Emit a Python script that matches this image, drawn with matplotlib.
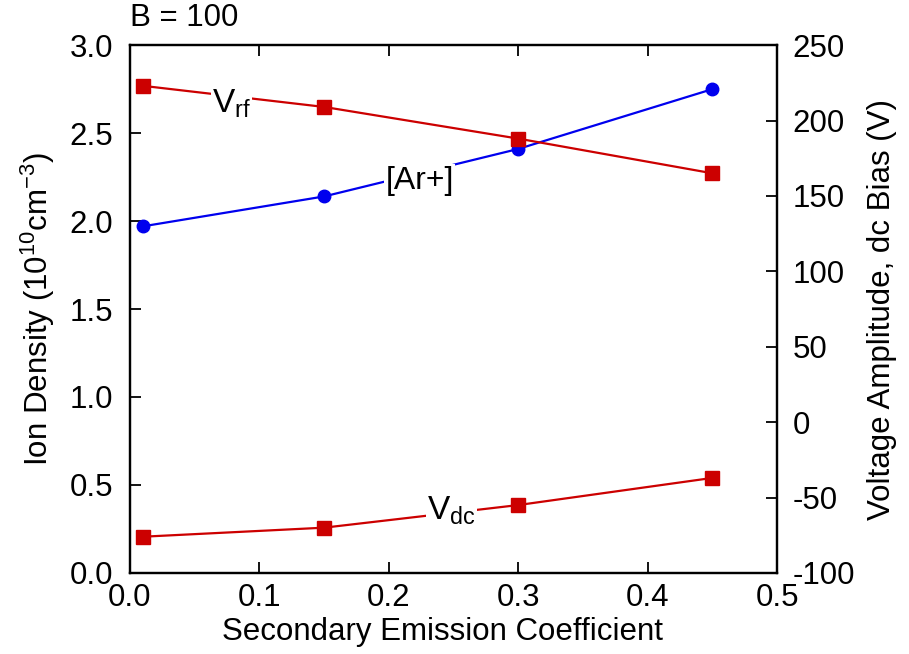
import matplotlib
matplotlib.use("Agg")
import matplotlib.pyplot as plt

plt.rcParams['font.family'] = ['Liberation Sans', 'DejaVu Sans']
plt.rcParams['mathtext.fontset'] = 'custom'
plt.rcParams['mathtext.rm'] = 'Liberation Sans'
plt.rcParams['mathtext.it'] = 'Liberation Sans'
plt.rcParams['axes.unicode_minus'] = False

# secondary emission coefficient
gamma = [0.01, 0.15, 0.30, 0.45]
# ion density, 1e10 cm^-3 (left axis)
ar_plus = [1.97, 2.14, 2.41, 2.75]
# voltages, V (right axis)
v_rf = [223, 209, 188, 165]
v_dc = [-76, -70, -55, -37]

red = '#cc0000'
blue = '#0000ee'
fs = 22.5

fig = plt.figure(figsize=(9.09, 6.54), dpi=100)
ax = fig.add_axes([0.143, 0.124, 0.712, 0.807])
ax2 = ax.twinx()

ax.plot(gamma, ar_plus, color=blue, lw=1.6, marker='o', ms=9, zorder=3)
ax2.plot(gamma, v_rf, color=red, lw=1.6, marker='s', ms=10, zorder=3)
ax2.plot(gamma, v_dc, color=red, lw=1.6, marker='s', ms=10, zorder=3)

ax.set_xlim(0, 0.5)
ax.set_ylim(0, 3.0)
ax2.set_ylim(-100, 250)
ax.set_xticks([0, 0.1, 0.2, 0.3, 0.4, 0.5])
ax.set_yticks([0, 0.5, 1.0, 1.5, 2.0, 2.5, 3.0])
ax2.set_yticks(range(-100, 251, 50))
ax.xaxis.set_major_formatter(matplotlib.ticker.FormatStrFormatter('%.1f'))
ax.yaxis.set_major_formatter(matplotlib.ticker.FormatStrFormatter('%.1f'))

ax.tick_params(axis='x', direction='in', top=True, length=8, width=1.3,
               labelsize=fs, pad=7)
ax.tick_params(axis='y', direction='in', right=False, length=8, width=1.3,
               labelsize=fs, pad=12)
ax2.tick_params(axis='y', direction='in', length=8, width=1.3,
                labelsize=fs, pad=11)
for a in (ax, ax2):
    for s in a.spines.values():
        s.set_linewidth(1.6)

ax.set_xlabel('Secondary Emission Coefficient', fontsize=fs, labelpad=7)
ax.xaxis.set_label_coords(0.483, -0.083)
ax.set_ylabel('Ion Density (10$^{10}$cm$^{-3}$)', fontsize=fs, labelpad=9)
ax2.set_ylabel('Voltage Amplitude, dc Bias (V)', fontsize=fs, labelpad=9)

box = dict(facecolor='white', edgecolor='none', pad=1)
ax2.text(0.0785, 211, 'V$_{\\rm rf}$', fontsize=24, ha='center', va='center',
         bbox=box, zorder=5)
ax2.text(0.2485, -58.5, 'V$_{\\rm dc}$', fontsize=24, ha='center', va='center',
         bbox=box, zorder=5)
ax2.text(0.224, 2.23, '[Ar+]', fontsize=23, ha='center', va='center',
         bbox=box, zorder=5, transform=ax.transData)

fig.text(0.143, 0.972, 'B = 100', fontsize=fs, ha='left', va='center')

fig.savefig('out.png', dpi=100)
